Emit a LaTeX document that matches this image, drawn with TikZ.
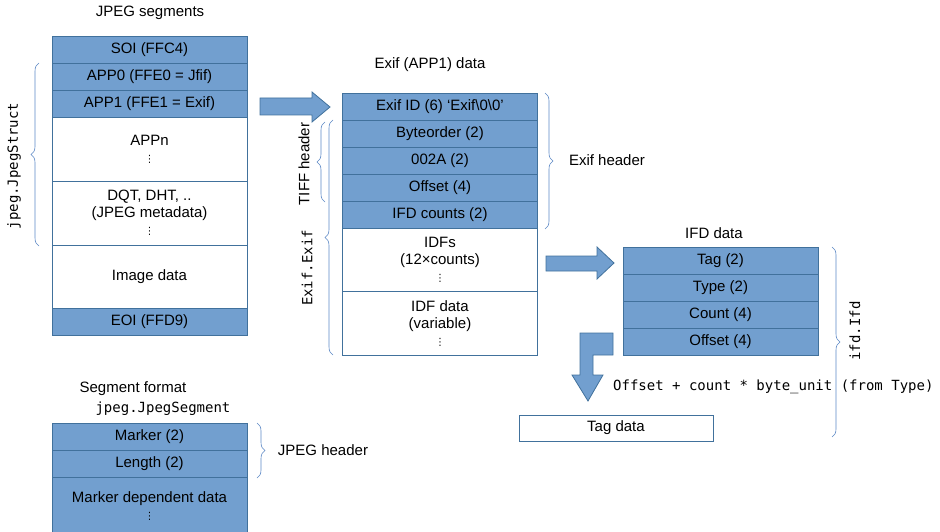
\documentclass[tikz,border=0pt]{standalone}
\usepackage{fontspec}
\setmainfont{Liberation Sans}
\setmonofont{DejaVu Sans Mono}
\newfontfamily\dotsfont{DejaVu Sans}
\usetikzlibrary{positioning,decorations.pathreplacing}
\definecolor{fieldblue}{RGB}{114,159,207}
\definecolor{fieldline}{RGB}{65,113,156}
\definecolor{bracecol}{RGB}{91,135,197}
\newcommand{\vdotmark}{{\dotsfont\fontsize{10}{10}\selectfont ⋮}}
\newcommand{\codefont}{\ttfamily\fontsize{14}{17}\selectfont}
\tikzstyle{field}=[draw=fieldline,fill=fieldblue,line width=0.8pt,minimum width=195pt,minimum height=27pt,inner sep=0pt,outer sep=0pt,align=center]
\tikzstyle{tallfield}=[field,fill=white,minimum height=63.5pt]
\tikzstyle{caption}=[inner sep=0pt]
\tikzstyle{bracket}=[draw=bracecol,line width=0.6pt,decorate,decoration={brace,amplitude=8pt}]
\tikzstyle{blockarrow}=[draw=fieldline,fill=fieldblue,line width=0.8pt,line join=miter]

\begin{document}
\begin{tikzpicture}[x=1pt,y=-1pt,font=\fontsize{15}{17}\selectfont]
  \useasboundingbox (0,0) rectangle (940,532);
  % JPEG segments
  \node[caption] (segtitle) at (150,13) {JPEG segments};
  \node[field] (soi) at (149.5,49.5) {SOI (FFC4)};
  \node[field,below=0pt of soi] (app0) {APP0 (FFE0 = Jfif)};
  \node[field,below=0pt of app0] (app1) {APP1 (FFE1 = Exif)};
  \node[tallfield,minimum height=64pt,below=0pt of app1] (appn) {APPn\\\vdotmark};
  \node[tallfield,minimum height=64pt,below=0pt of appn] (dqt) {DQT, DHT, ..\\(JPEG metadata)\\\vdotmark};
  \node[tallfield,minimum height=63pt,below=0pt of dqt] (image) {Image data};
  \node[field,below=0pt of image] (eoi) {EOI (FFD9)};
  \draw[bracket] (39,246) -- (39,63);
  \node[caption,rotate=90] (jpegstruct) at (14,166) {\codefont jpeg.JpegStruct};

  \draw[blockarrow] (260,98) -- (312,98) -- (312,92) -- (330,107)
    -- (312,122) -- (312,115) -- (260,115) -- cycle;

  % Exif (APP1) data
  \node[caption] (exiftitle) at (430,65) {Exif (APP1) data};
  \node[field] (exifid) at (440,106.5) {Exif ID (6) ‘Exif\textbackslash 0\textbackslash 0’};
  \node[field,below=0pt of exifid] (byteorder) {Byteorder (2)};
  \node[field,below=0pt of byteorder] (magic) {002A (2)};
  \node[field,below=0pt of magic] (offset) {Offset (4)};
  \node[field,below=0pt of offset] (ifdcount) {IFD counts (2)};
  \node[tallfield,below=0pt of ifdcount] (idfs) {IDFs\\(12×counts)\\\vdotmark};
  \node[tallfield,below=0pt of idfs] (idfdata) {IDF data\\(variable)\\\vdotmark};
  \draw[bracket] (545,93) -- (545,229);
  \node[caption] (exifheader) at (607,160) {Exif header};
  \draw[bracket] (325,202) -- (325,122);
  \node[caption,rotate=90] (tiffheader) at (304,164) {TIFF header};
  \draw[bracket] (333,355) -- (333,120);
  \node[caption,rotate=90] (exifexif) at (307,268) {\codefont Exif.Exif};

  \draw[blockarrow] (546,256) -- (597,256) -- (597,247) -- (614,263)
    -- (597,279) -- (597,271) -- (546,271) -- cycle;

  % IFD data
  \node[caption] (ifdtitle) at (714,233) {IFD data};
  \node[field] (tag) at (720.5,260.5) {Tag (2)};
  \node[field,below=0pt of tag] (type) {Type (2)};
  \node[field,below=0pt of type] (count) {Count (4)};
  \node[field,below=0pt of count] (ifdoffset) {Offset (4)};
  \draw[bracket] (832,247) -- (832,437);
  \node[caption,rotate=90] (ifdifd) at (855,331) {\codefont ifd.Ifd};

  \draw[blockarrow] (580,333) -- (613,333) -- (613,355) -- (593,355)
    -- (593,375) -- (603,375) -- (588,401) -- (572,375) -- (580,375) -- cycle;
  \node[caption,anchor=west] (formula) at (613,387) {\codefont Offset + count * byte\_unit (from Type)};
  \node[field,fill=white,minimum width=194pt,minimum height=26pt] (tagdata) at (616,428) {Tag data};

  % Segment format
  \node[caption] (fmttitle) at (133,389) {Segment format};
  \node[caption] (fmtstruct) at (163,409) {\codefont jpeg.JpegSegment};
  \node[field] (marker) at (149.5,436.5) {Marker (2)};
  \node[field,below=0pt of marker] (length) {Length (2)};
  \node[field,minimum height=58pt,below=0pt of length] (payload) {Marker dependent data\\\vdotmark};
  \draw[bracket] (257,423) -- (257,478);
  \node[caption] (jpegheader) at (323,450) {JPEG header};
\end{tikzpicture}
\end{document}
